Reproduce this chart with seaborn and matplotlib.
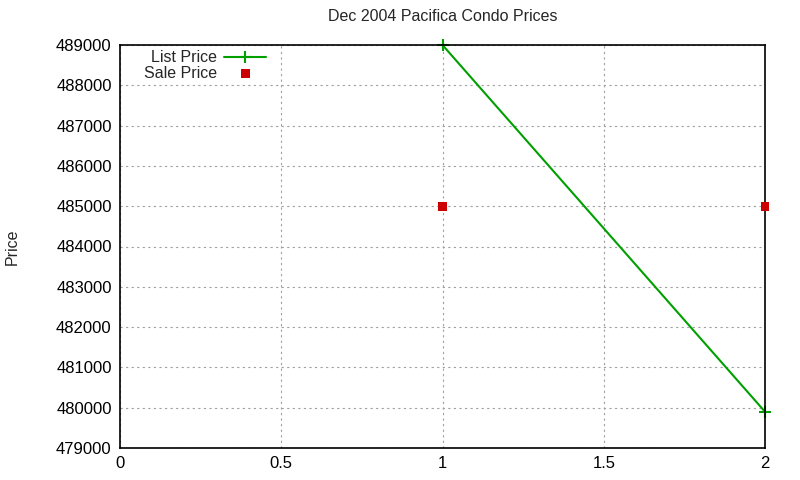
import matplotlib
matplotlib.use("Agg")
import matplotlib.pyplot as plt
import pandas as pd
import seaborn as sns

# data
list_x = [1, 2]
list_price = [489000, 479900]
sale_x = [1, 2]
sale_price = [485000, 485000]

list_df = pd.DataFrame({"x": list_x, "price": list_price})
sale_df = pd.DataFrame({"x": sale_x, "price": sale_price})

sns.set_style("white")
plt.rcParams["font.family"] = ["Liberation Sans", "DejaVu Sans"]

fig = plt.figure(figsize=(8, 4.8), dpi=100)
ax = fig.add_axes([120 / 800, 1 - 448 / 480, 645 / 800, 403 / 480])

green = "#00a000"
sns.lineplot(data=list_df, x="x", y="price", ax=ax, color=green,
             linewidth=1.5, marker="+", markersize=8, markeredgewidth=1.5,
             markeredgecolor=green, label="List Price")
sns.scatterplot(data=sale_df, x="x", y="price", ax=ax, color="#cc0000",
                marker="s", s=40, edgecolor="none", label="Sale Price",
                zorder=3, clip_on=False)

ax.set_xlim(0, 2)
ax.set_ylim(479000, 489000)
ax.set_xticks([0, 0.5, 1, 1.5, 2])
ax.set_xticklabels(["0", "0.5", "1", "1.5", "2"])
ax.set_yticks(range(479000, 489001, 1000))
ax.grid(True, color="#a0a0a0", linestyle=(0, (2, 3)), linewidth=0.8)
ax.tick_params(axis="both", length=0, labelsize=12, colors="black", pad=6)
for s in ax.spines.values():
    s.set_color("black")
    s.set_linewidth(1.2)

ax.set_xlabel("")
ax.set_ylabel("Price", fontsize=11.5, va="center")
ax.yaxis.set_label_coords(-0.167, 0.5)
ax.set_title("Dec 2004 Pacifica Condo Prices", fontsize=11.5, pad=17)

for line in ax.get_lines():
    line.set_clip_on(False)

leg = ax.legend(loc="upper left", bbox_to_anchor=(0.02, 1.015), frameon=False,
                markerfirst=False, fontsize=11.5, handlelength=2.6,
                handletextpad=0.45, labelspacing=0.05, borderaxespad=0.3,
                alignment="right")
for t in leg.get_texts():
    t.set_ha("right")

fig.savefig("out.png", dpi=100)
